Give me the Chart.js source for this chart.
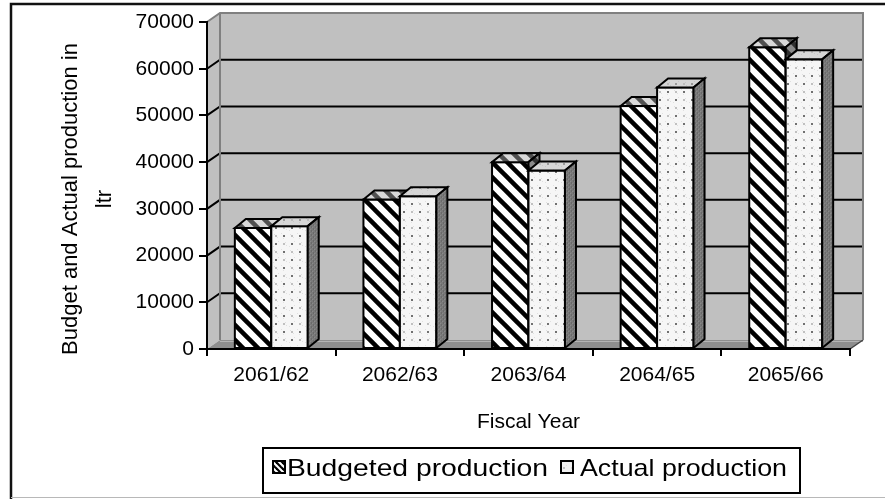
<!DOCTYPE html>
<html><head><meta charset="utf-8">
<script src="https://cdn.jsdelivr.net/npm/chart.js@4.4.1/dist/chart.umd.min.js"></script>
<style>html,body{margin:0;padding:0;background:#fff;overflow:hidden}#wrap{position:relative;width:885px;height:499px}</style>
</head><body><div id="wrap"><canvas id="c" width="885" height="499"></canvas></div>
<script>
// ---- data ----
const categories = ['2061/62', '2062/63', '2063/64', '2064/65', '2065/66'];
const budgeted = [25900, 32000, 40000, 52000, 64600];
const actual = [26300, 32700, 38200, 56000, 62000];
const seriesNames = ['Budgeted production', 'Actual production'];
const yMin = 0, yMax = 70000, yStep = 10000;
const yTitle = ['Budget and Actual production in', 'ltr'];
const xTitle = 'Fiscal Year';

// ---- style ----
const FONT = '"Liberation Sans", Arial, sans-serif';
const WALL_DX = 13, WALL_DY = -9;
const BAR_DX = 11, BAR_DY = -9;

const canvas = document.getElementById('c');
const mctx = canvas.getContext('2d');

function tile(w, h, draw) {
  const c = document.createElement('canvas'); c.width = w; c.height = h;
  const g = c.getContext('2d'); draw(g, w, h);
  return mctx.createPattern(c, 'repeat');
}
function hatch(bg, fg, size, lw) {
  return tile(size, size, (g) => {
    g.fillStyle = bg; g.fillRect(0, 0, size, size);
    g.strokeStyle = fg; g.lineWidth = lw;
    for (const k of [-1, 0, 1]) { g.beginPath(); g.moveTo(k * size - 2, -2); g.lineTo(k * size + size + 2, size + 2); g.stroke(); }
  });
}
function dots(bg, speck, dot, light) {
  return tile(16, 16, (g) => {
    g.fillStyle = bg; g.fillRect(0, 0, 16, 16);
    g.fillStyle = speck;
    [[1,6],[6,1],[9,9],[14,5],[5,13],[11,14],[2,10],[13,2]].forEach(p => g.fillRect(p[0], p[1], 1, 1));
    g.fillStyle = dot; g.fillRect(3, 3, 2, 2); g.fillRect(11, 11, 2, 2);
    g.fillStyle = light; g.fillRect(11, 3, 2, 2); g.fillRect(3, 11, 2, 2);
  });
}
const patBudgetFront = hatch('#ffffff', '#000000', 15, 4.5);
const patBudgetTop = hatch('#d8d8d8', '#505050', 15, 4.5);
const patBudgetSide = hatch('#8a8a8a', '#303030', 15, 4.5);
const patActualFront = dots('#f6f6f6', '#e0e0e0', '#707070', '#c0c0c0');
const patActualTop = dots('#d6d6d6', '#c6c6c6', '#9a9a9a', '#bcbcbc');
const patActualSide = tile(4, 4, (g) => {
  g.fillStyle = '#7a7a7a'; g.fillRect(0, 0, 4, 4);
  g.fillStyle = '#6a6a6a'; g.fillRect(1, 0, 1, 2); g.fillRect(3, 2, 1, 2);
  g.fillStyle = '#8a8a8a'; g.fillRect(0, 3, 1, 1); g.fillRect(2, 1, 1, 1);
});
const patBudgetMark = hatch('#ffffff', '#000000', 6, 2.2);
const patActualMark = dots('#f0f0f0', '#e0e0e0', '#bdbdbd', '#d8d8d8');

const faces = [
  { top: patBudgetTop, side: patBudgetSide },
  { top: patActualTop, side: patActualSide }
];

function poly(ctx, pts) {
  ctx.beginPath(); ctx.moveTo(pts[0][0], pts[0][1]);
  for (let i = 1; i < pts.length; i++) ctx.lineTo(pts[i][0], pts[i][1]);
  ctx.closePath();
}

const walls = {
  id: 'walls',
  beforeDraw(chart) {
    const { ctx, chartArea: a, scales: { y } } = chart;
    const L = a.left, R = a.right, T = a.top, B = a.bottom;
    ctx.save();
    ctx.fillStyle = '#fff'; ctx.fillRect(0, 0, chart.width, chart.height);
    ctx.fillStyle = '#c0c0c0';
    poly(ctx, [[L + WALL_DX, T + WALL_DY], [R + WALL_DX, T + WALL_DY], [R + WALL_DX, B + WALL_DY], [L + WALL_DX, B + WALL_DY]]); ctx.fill();
    poly(ctx, [[L, T], [L + WALL_DX, T + WALL_DY], [L + WALL_DX, B + WALL_DY], [L, B]]); ctx.fill();
    ctx.strokeStyle = '#000'; ctx.lineWidth = 2;
    y.ticks.forEach(t => {
      if (t.value <= y.min || t.value >= y.max) return;
      const py = y.getPixelForValue(t.value);
      ctx.beginPath(); ctx.moveTo(L, py); ctx.lineTo(L + WALL_DX, py + WALL_DY); ctx.lineTo(R + WALL_DX, py + WALL_DY); ctx.stroke();
    });
    ctx.fillStyle = '#8e8e8e';
    poly(ctx, [[L, B], [L + WALL_DX, B + WALL_DY], [R + WALL_DX, B + WALL_DY], [R, B]]); ctx.fill();
    ctx.strokeStyle = '#b4b4b4'; ctx.lineWidth = 1;
    ctx.beginPath(); ctx.moveTo(L + WALL_DX, B + WALL_DY + 1.5); ctx.lineTo(R + WALL_DX, B + WALL_DY + 1.5); ctx.stroke();
    ctx.strokeStyle = '#444'; ctx.lineWidth = 1.5;
    ctx.beginPath(); ctx.moveTo(R, B); ctx.lineTo(R + WALL_DX, B + WALL_DY); ctx.stroke();
    ctx.strokeStyle = '#808080'; ctx.lineWidth = 2;
    ctx.beginPath(); ctx.moveTo(L, T); ctx.lineTo(L + WALL_DX, T + WALL_DY); ctx.lineTo(R + WALL_DX, T + WALL_DY); ctx.lineTo(R + WALL_DX, B + WALL_DY); ctx.stroke();
    ctx.beginPath(); ctx.moveTo(L + WALL_DX, T + WALL_DY); ctx.lineTo(L + WALL_DX, B + WALL_DY); ctx.stroke();
    ctx.restore();
  }
};

// draws front, top and side faces of every bar, series by series, in depth order
const bars3d = {
  id: 'bars3d',
  afterDatasetsDraw(chart) {
    const ctx = chart.ctx;
    ctx.save();
    ctx.strokeStyle = '#000'; ctx.lineWidth = 2; ctx.lineJoin = 'miter';
    chart.data.datasets.forEach((ds, di) => {
      const meta = chart.getDatasetMeta(di); const f = faces[di];
      meta.data.forEach(bar => {
        const p = bar.getProps(['x', 'y', 'base', 'width'], true);
        const l = p.x - p.width / 2, r = p.x + p.width / 2, t = p.y, b = p.base;
        ctx.fillStyle = bar.options.backgroundColor;
        ctx.fillRect(l, t, p.width, b - t);
        ctx.strokeRect(l, t, p.width, b - t);
        poly(ctx, [[l, t], [l + BAR_DX, t + BAR_DY], [r + BAR_DX, t + BAR_DY], [r, t]]);
        ctx.fillStyle = f.top; ctx.fill(); ctx.stroke();
        poly(ctx, [[r, t], [r + BAR_DX, t + BAR_DY], [r + BAR_DX, b + BAR_DY], [r, b]]);
        ctx.fillStyle = f.side; ctx.fill(); ctx.stroke();
      });
    });
    ctx.restore();
  }
};

const decorations = {
  id: 'decorations',
  afterDraw(chart) {
    const ctx = chart.ctx;
    ctx.save();
    ctx.strokeStyle = '#111'; ctx.lineWidth = 2.5;
    ctx.beginPath(); ctx.moveTo(11, 499); ctx.lineTo(11, 4); ctx.lineTo(885, 4); ctx.stroke();
    ctx.strokeStyle = '#b8b8b8'; ctx.lineWidth = 1.2;
    ctx.beginPath(); ctx.moveTo(11, 497.5); ctx.lineTo(885, 497.5); ctx.stroke();
    // y axis title
    ctx.fillStyle = '#000'; ctx.textAlign = 'center'; ctx.textBaseline = 'alphabetic';
    ctx.font = '22px ' + FONT;
    const tcy = 199;
    [[77, yTitle[0]], [111, yTitle[1]]].forEach(([bx, txt]) => {
      ctx.save(); ctx.translate(bx, tcy); ctx.rotate(-Math.PI / 2); ctx.fillText(txt, 0, 0); ctx.restore();
    });
    // legend
    ctx.strokeStyle = '#000'; ctx.lineWidth = 2;
    ctx.strokeRect(263, 448, 537, 45);
    const items = [
      { mx: 273, tx: 287, tw: 261, pat: patBudgetMark, label: chart.data.datasets[0].label },
      { mx: 561, tx: 580, tw: 207, pat: patActualMark, label: chart.data.datasets[1].label }
    ];
    ctx.font = '24px ' + FONT; ctx.textAlign = 'left';
    items.forEach(it => {
      ctx.fillStyle = it.pat; ctx.fillRect(it.mx, 461, 12, 12);
      ctx.strokeStyle = '#000'; ctx.lineWidth = 2; ctx.strokeRect(it.mx, 461, 12, 12);
      const w = ctx.measureText(it.label).width;
      ctx.save(); ctx.translate(it.tx, 476); ctx.scale(it.tw / w, 1);
      ctx.fillStyle = '#000'; ctx.fillText(it.label, 0, 0); ctx.restore();
    });
    ctx.restore();
  }
};

new Chart(canvas, {
  type: 'bar',
  data: {
    labels: categories,
    datasets: [
      { label: seriesNames[0], data: budgeted, backgroundColor: patBudgetFront, borderColor: '#000', borderWidth: 0, borderSkipped: false },
      { label: seriesNames[1], data: actual, backgroundColor: patActualFront, borderColor: '#000', borderWidth: 0, borderSkipped: false }
    ]
  },
  options: {
    responsive: false, animation: false, devicePixelRatio: 1,
    layout: { padding: { left: 0, right: 35, top: 22, bottom: 0 } },
    datasets: { bar: { categoryPercentage: 0.567, barPercentage: 1 } },
    plugins: { legend: { display: false }, tooltip: { enabled: false } },
    scales: {
      x: {
        grid: { display: true, drawOnChartArea: false, drawTicks: true, tickLength: 7, color: '#000', lineWidth: 2, offset: true },
        border: { display: true, color: '#000', width: 2 },
        ticks: { color: '#000', font: { family: FONT, size: 21 }, padding: 7, maxRotation: 0, autoSkip: false },
        title: { display: true, text: xTitle, color: '#000', font: { family: FONT, size: 21 }, padding: { top: 0, bottom: 64 } },
        afterFit(s) { s.height = 150; }
      },
      y: {
        min: yMin, max: yMax,
        ticks: { stepSize: yStep, color: '#000', font: { family: FONT, size: 21 }, padding: 5, callback: v => String(v) },
        grid: { display: true, drawOnChartArea: false, drawTicks: true, tickLength: 8, color: '#000', lineWidth: 2 },
        border: { display: true, color: '#000', width: 2 },
        afterFit(s) { s.width = 207; }
      }
    }
  },
  plugins: [walls, bars3d, decorations]
});
</script></body></html>
